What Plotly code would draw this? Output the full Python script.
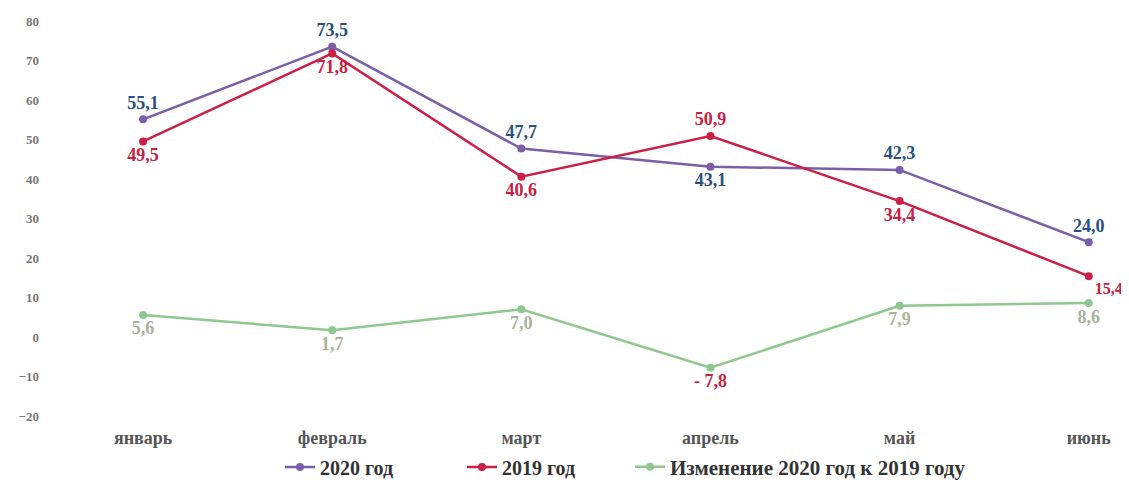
import plotly.graph_objects as go

months = ["январь", "февраль", "март", "апрель", "май", "июнь"]
y2020 = [55.1, 73.5, 47.7, 43.1, 42.3, 24.0]
y2019 = [49.5, 71.8, 40.6, 50.9, 34.4, 15.4]
change = [5.6, 1.7, 7.0, -7.8, 7.9, 8.6]
names = ["2020 год", "2019 год", "Изменение 2020 год к 2019 году"]

pos2020 = ["top center", "top center", "top center", "bottom center", "top center", "top center"]
pos2019 = ["bottom center", "bottom center", "bottom center", "top center", "bottom center", "bottom right"]
posch = ["bottom center"] * 6

def fmt(v):
    s = f"{v:.1f}".replace(".", ",")
    return s.replace("-", "- ")

FONT = "Liberation Serif"
x = list(range(len(months)))

c2020, c2019, cch = "#7a5fa8", "#cc1f45", "#8ec88e"
t2020, t2019, tch = "#2a5080", "#c8203f", "#a9b39a"
tch_list = [t2019 if v < 0 else tch for v in change]
size2019 = [18, 18, 18, 18, 18, 16]

# page has an 8px body margin; figure coordinates = page coordinates - 8
W, H = 1121, 475
OFF = 8

fig = go.Figure()
series = [
    (y2020, names[0], c2020, t2020, pos2020, "legend", 18),
    (y2019, names[1], c2019, t2019, pos2019, "legend2", size2019),
    (change, names[2], cch, tch_list, posch, "legend3", 18),
]
for ys, nm, lc, tc, tp, lg, fs in series:
    fig.add_trace(go.Scatter(
        x=x, y=ys, name=nm, mode="lines+markers+text",
        line=dict(color=lc, width=2.5),
        marker=dict(color=lc, size=8),
        text=[fmt(v) for v in ys], textposition=tp,
        textfont=dict(family=FONT, size=fs, color=tc, weight="bold"),
        cliponaxis=False, legend=lg,
    ))

def leg(px, fs):
    return dict(orientation="h", x=(px - OFF) / W, xanchor="left",
                y=(H - (467 - OFF)) / H, yanchor="middle",
                font=dict(family=FONT, size=fs, color="#333", weight="bold"),
                itemwidth=30, bgcolor="rgba(0,0,0,0)")

fig.update_layout(
    width=W, height=H,
    margin=dict(l=0, r=0, t=0, b=0, autoexpand=False),
    plot_bgcolor="white", paper_bgcolor="white",
    font=dict(family=FONT),
    showlegend=True,
    legend=leg(280, 20), legend2=leg(462, 20), legend3=leg(630, 21),
    xaxis=dict(tickvals=x, ticktext=months, range=[-0.545, 5.16],
               domain=[(40 - OFF) / W, (1119 - OFF) / W], automargin=False,
               showgrid=False, zeroline=False, showline=False, ticks="",
               ticklabelstandoff=9,
               tickfont=dict(family=FONT, size=18, color="#555", weight="bold")),
    yaxis=dict(range=[-20, 80], dtick=10, showgrid=False, zeroline=False,
               domain=[(H - (416 - OFF)) / H, (H - (21 - OFF)) / H], automargin=False,
               showline=False, ticks="",
               tickfont=dict(family=FONT, size=13, color="#777", weight="bold")),
)
fig.write_html("out.html")
